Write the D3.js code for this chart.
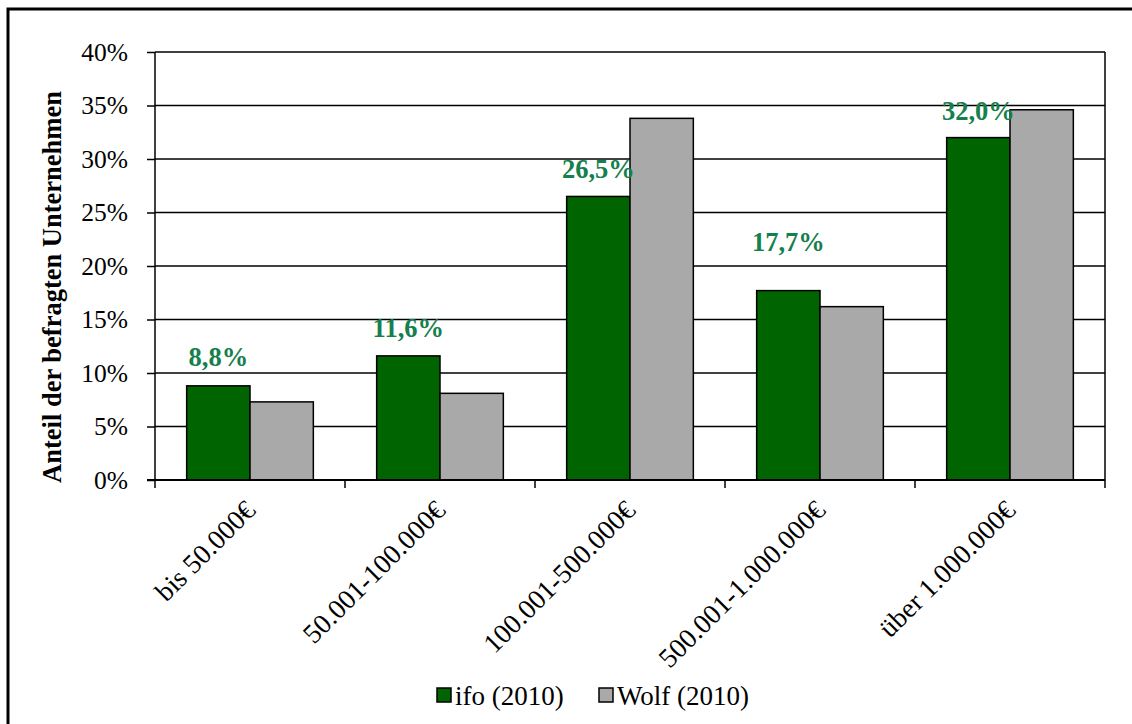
<!DOCTYPE html>
<html>
<head>
<meta charset="utf-8">
<script src="https://cdn.jsdelivr.net/npm/d3@7"></script>
<style>
  html, body { margin: 0; padding: 0; background: #fff; }
  svg { display: block; font-family: "Liberation Serif", "Times New Roman", serif; }
</style>
</head>
<body>
<div id="chart"></div>
<script>
// categories (turnover classes) and the two surveys
var categories = ["bis 50.000€", "50.001-100.000€", "100.001-500.000€", "500.001-1.000.000€", "über 1.000.000€"];
var seriesNames = ["ifo (2010)", "Wolf (2010)"];
var ifoValues = [8.8, 11.6, 26.5, 17.7, 32.0];
var wolfValues = [7.3, 8.1, 33.8, 16.2, 34.6];
var yTicks = [0, 5, 10, 15, 20, 25, 30, 35, 40];

var width = 1132,
    height = 724,
    margin = {top: 52, right: 27, bottom: 244, left: 155};

var colors = ["#006400", "#a9a9a9"];
var labelColor = "#15804d";
// small upward nudge of each value label, as placed in the original
var labelLift = [20, 19, 18, 40, 18];

var svg = d3.select("#chart").append("svg")
  .attr("width", width)
  .attr("height", height);

// outer frame
svg.append("path")
  .attr("d", "M8," + (height + 5) + "V9H" + (width + 5))
  .attr("fill", "none")
  .attr("stroke", "#000")
  .attr("stroke-width", 3);

var x0 = margin.left, x1 = width - margin.right;
var yb = height - margin.bottom;

var y = d3.scaleLinear()
  .domain([0, 40])
  .range([yb, margin.top]);

// band scale for category boundaries (ticks)
var xb = d3.scaleBand()
  .domain(categories)
  .range([x0, x1])
  .padding(0);

// band scale for bar groups
var x = d3.scaleBand()
  .domain(categories)
  .range([x0, x1])
  .paddingInner(1 / 3)
  .paddingOuter(1 / 6);

var xs = d3.scaleBand()
  .domain(seriesNames)
  .range([0, x.bandwidth()]);

//gridlines
svg.append("g")
  .selectAll("line")
  .data(yTicks.slice(1))
  .enter()
  .append("line")
  .attr("x1", x0)
  .attr("x2", x1)
  .attr("y1", function(d) { return y(d); })
  .attr("y2", function(d) { return y(d); })
  .attr("stroke", "#000")
  .attr("stroke-width", 1.5);

// right border of plot area
svg.append("line")
  .attr("x1", x1).attr("x2", x1)
  .attr("y1", margin.top).attr("y2", yb)
  .attr("stroke", "#000")
  .attr("stroke-width", 1.5);

// bars
var rows = categories.map(function(c, i) {
  return {cat: c, i: i, values: [ifoValues[i], wolfValues[i]]};
});

var groups = svg.append("g")
  .selectAll("g")
  .data(rows)
  .enter()
  .append("g")
  .attr("transform", function(d) { return "translate(" + x(d.cat) + ",0)"; });

groups.selectAll("rect")
  .data(function(d) {
    return d.values.map(function(v, k) { return {name: seriesNames[k], value: v, k: k}; });
  })
  .enter()
  .append("rect")
  .attr("x", function(d) { return xs(d.name); })
  .attr("width", xs.bandwidth())
  .attr("y", function(d) { return y(d.value); })
  .attr("height", function(d) { return yb - y(d.value); })
  .attr("fill", function(d) { return colors[d.k]; })
  .attr("stroke", "#000")
  .attr("stroke-width", 1.5);

// y axis
var yAxis = d3.axisLeft(y)
  .tickValues(yTicks)
  .tickSize(8)
  .tickPadding(19)
  .tickFormat(function(d) { return d + "%"; });

var gy = svg.append("g")
  .attr("transform", "translate(" + x0 + ",0)")
  .call(yAxis);
gy.select(".domain").attr("stroke-width", 1.5).attr("d", "M0," + margin.top + "V" + yb);
gy.selectAll(".tick line").attr("stroke-width", 1.5);
gy.selectAll("text")
  .attr("font-size", 25.5)
  .attr("font-family", "'Liberation Serif', 'Times New Roman', serif")
  .attr("fill", "#000");

// x axis baseline and boundary ticks
svg.append("line")
  .attr("x1", x0 - 8).attr("x2", x1)
  .attr("y1", yb).attr("y2", yb)
  .attr("stroke", "#000")
  .attr("stroke-width", 2);

var bounds = categories.map(function(c) { return xb(c); }).concat([x1]);
svg.append("g")
  .selectAll("line")
  .data(bounds)
  .enter()
  .append("line")
  .attr("x1", function(d) { return d; })
  .attr("x2", function(d) { return d; })
  .attr("y1", yb)
  .attr("y2", yb + 8)
  .attr("stroke", "#000")
  .attr("stroke-width", 1.5);

// category labels, rotated
svg.append("g")
  .selectAll("text")
  .data(categories)
  .enter()
  .append("text")
  .attr("transform", function(d) {
    return "translate(" + (xb(d) + xb.bandwidth() / 2 + 7) + "," + (yb + 32) + ") rotate(-45)";
  })
  .attr("text-anchor", "end")
  .attr("font-size", 27.5)
  .text(function(d) { return d; });

// value labels for ifo
var fmt = function(v) { return d3.format(".1f")(v).replace(".", ",") + "%"; };
svg.append("g")
  .selectAll("text")
  .data(ifoValues)
  .enter()
  .append("text")
  .attr("x", function(d, i) { return x(categories[i]) + xs(seriesNames[0]) + xs.bandwidth() / 2; })
  .attr("y", function(d, i) { return y(d) - labelLift[i]; })
  .attr("text-anchor", "middle")
  .attr("font-size", 26.5)
  .attr("font-weight", "bold")
  .attr("fill", labelColor)
  .text(fmt);

// y axis title
svg.append("text")
  .attr("transform", "translate(61," + ((margin.top + yb) / 2 + 21) + ") rotate(-90)")
  .attr("text-anchor", "middle")
  .attr("font-size", 26.5)
  .attr("font-weight", "bold")
  .text("Anteil der befragten Unternehmen");

// legend
var legend = svg.append("g")
  .selectAll("g")
  .data(seriesNames)
  .enter()
  .append("g")
  .attr("transform", function(d, i) { return "translate(" + [437, 599][i] + ",688)"; });

legend.append("rect")
  .attr("width", 14)
  .attr("height", 14)
  .attr("fill", function(d, i) { return colors[i]; })
  .attr("stroke", "#000")
  .attr("stroke-width", 1.5);

legend.append("text")
  .attr("x", 18)
  .attr("y", 17)
  .attr("font-size", 27)
  .text(function(d) { return d; });
</script>
</body>
</html>
